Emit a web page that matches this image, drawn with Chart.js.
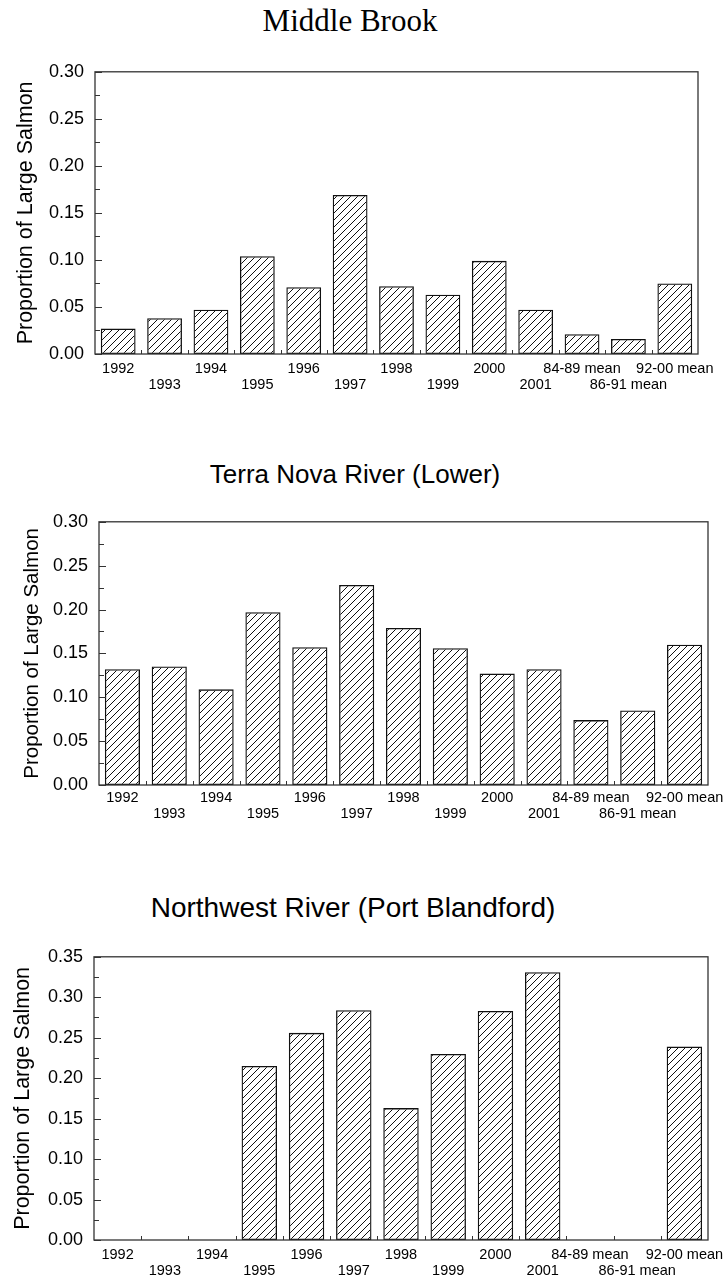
<!DOCTYPE html>
<html>
<head>
<meta charset="utf-8">
<script src="https://cdn.jsdelivr.net/npm/chart.js@4.4.1/dist/chart.umd.min.js"></script>
<style>
html, body { margin: 0; padding: 0; background: #fff; overflow: hidden; }
body { position: relative; width: 724px; height: 1279px; }
canvas { position: absolute; left: 0; }
.title { position: absolute; width: 500px; text-align: center; color: #000; white-space: nowrap; }
</style>
</head>
<body>
<div class="title" style="left:100px; top:5px; font:31px/31px 'Liberation Serif', serif;">Middle Brook</div>
<div class="title" style="left:105px; top:461px; font:26px/26px 'Liberation Sans', Arial, sans-serif;">Terra Nova River (Lower)</div>
<div class="title" style="left:103px; top:894px; font:28px/28px 'Liberation Sans', Arial, sans-serif;">Northwest River (Port Blandford)</div>

<canvas id="c1" width="724" height="354" style="top:50px"></canvas>
<canvas id="c2" width="724" height="335" style="top:500px"></canvas>
<canvas id="c3" width="724" height="344" style="top:935px"></canvas>

<script>
const years = ['1992', '1993', '1994', '1995', '1996', '1997', '1998', '1999', '2000', '2001',
    '84-89 mean', '86-91 mean', '92-00 mean'];

const middleBrook = [0.027, 0.038, 0.047, 0.104, 0.071, 0.169, 0.072, 0.063, 0.099, 0.047, 0.021, 0.016, 0.075];
const terraNova   = [0.132, 0.135, 0.109, 0.197, 0.157, 0.228, 0.179, 0.156, 0.127, 0.132, 0.074, 0.085, 0.160];
const northwest   = [null, null, null, 0.215, 0.256, 0.284, 0.163, 0.230, 0.283, 0.331, null, null, 0.239];

const yMaxes = [0.30, 0.30, 0.35];
const yStep = 0.05;
const yTitle = 'Proportion of Large Salmon';

const SANS = "'Liberation Sans', Arial, sans-serif";

// labels alternate between two rows so the long "mean" ones don't collide
const labels = years.map((y, i) => i % 2 === 0 ? [y] : ['', y]);

function hatch() {
    const c = document.createElement('canvas');
    c.width = 7;
    c.height = 7;
    const g = c.getContext('2d');
    g.strokeStyle = '#111';
    g.lineWidth = 1;
    g.beginPath();
    g.moveTo(0, 7); g.lineTo(7, 0);
    g.moveTo(-1, 1); g.lineTo(1, -1);
    g.moveTo(6, 8); g.lineTo(8, 6);
    g.stroke();
    return g.createPattern(c, 'repeat');
}

// box around the plot plus small inward ticks
const frame = {
    id: 'frame',
    afterDatasetsDraw(chart) {
        const { ctx, chartArea: a, scales: { x, y } } = chart;
        ctx.save();
        ctx.strokeStyle = '#333';
        ctx.lineWidth = 1.3;
        ctx.strokeRect(a.left, a.top, a.right - a.left, a.bottom - a.top);

        ctx.lineWidth = 1;
        ctx.beginPath();
        const half = yStep / 2;
        for (let i = 0; i * half <= y.max + 1e-9; i++) {
            const py = Math.round(y.getPixelForValue(i * half)) + 0.5;
            const len = i % 2 ? 5 : 7;
            ctx.moveTo(a.left, py);
            ctx.lineTo(a.left + len, py);
        }
        for (let i = 0; i < x.ticks.length - 1; i++) {
            const px = Math.round((x.getPixelForValue(i) + x.getPixelForValue(i + 1)) / 2) + 0.5;
            ctx.moveTo(px, a.bottom);
            ctx.lineTo(px, a.bottom - 4);
        }
        ctx.stroke();
        ctx.restore();
    }
};

const panels = [
    { id: 'c1', data: middleBrook, yMax: yMaxes[0], left: 95, right: 698, padTop: 12, xPad: 6.25, xH: 50, titleSize: 21.5, titlePad: 13 },
    { id: 'c2', data: terraNova,   yMax: yMaxes[1], left: 99, right: 708, padTop: 14, xPad: 4.25, xH: 50, titleSize: 20.5, titlePad: 20 },
    { id: 'c3', data: northwest,   yMax: yMaxes[2], left: 94, right: 708, padTop: 16, xPad: 6.25, xH: 39, titleSize: 21.5, titlePad: 10 }
];

const fill = hatch();

panels.forEach(p => {
    new Chart(document.getElementById(p.id), {
        type: 'bar',
        data: {
            labels,
            datasets: [{
                data: p.data,
                backgroundColor: fill,
                borderColor: '#111',
                borderWidth: 1.3,
                borderSkipped: false,
                barPercentage: 0.75,
                categoryPercentage: 1
            }]
        },
        options: {
            responsive: false,
            animation: false,
            devicePixelRatio: 1,
            layout: { padding: { top: p.padTop, right: 724 - p.right, bottom: 0, left: 0 } },
            plugins: { legend: { display: false }, tooltip: { enabled: false } },
            scales: {
                x: {
                    offset: true,
                    grid: { display: false, drawTicks: false },
                    border: { display: false },
                    ticks: {
                        autoSkip: false,
                        maxRotation: 0,
                        minRotation: 0,
                        padding: p.xPad,
                        color: '#000',
                        font: { family: SANS, size: 14.5, lineHeight: 1.14 }
                    },
                    afterFit(s) {
                        s.height = p.xH;
                        s.paddingLeft = 0;
                        s.paddingRight = 0;
                    }
                },
                y: {
                    min: 0,
                    max: p.yMax,
                    grid: { display: false, drawTicks: false },
                    border: { display: false },
                    ticks: {
                        stepSize: yStep,
                        padding: 11,
                        color: '#000',
                        font: { family: SANS, size: 18 },
                        callback: v => v.toFixed(2)
                    },
                    title: {
                        display: true,
                        text: yTitle,
                        color: '#000',
                        font: { family: SANS, size: p.titleSize },
                        padding: { top: p.titlePad, bottom: 0 }
                    },
                    afterFit(s) {
                        s.width = p.left;
                    }
                }
            }
        },
        plugins: [frame]
    });
});
</script>
</body>
</html>
